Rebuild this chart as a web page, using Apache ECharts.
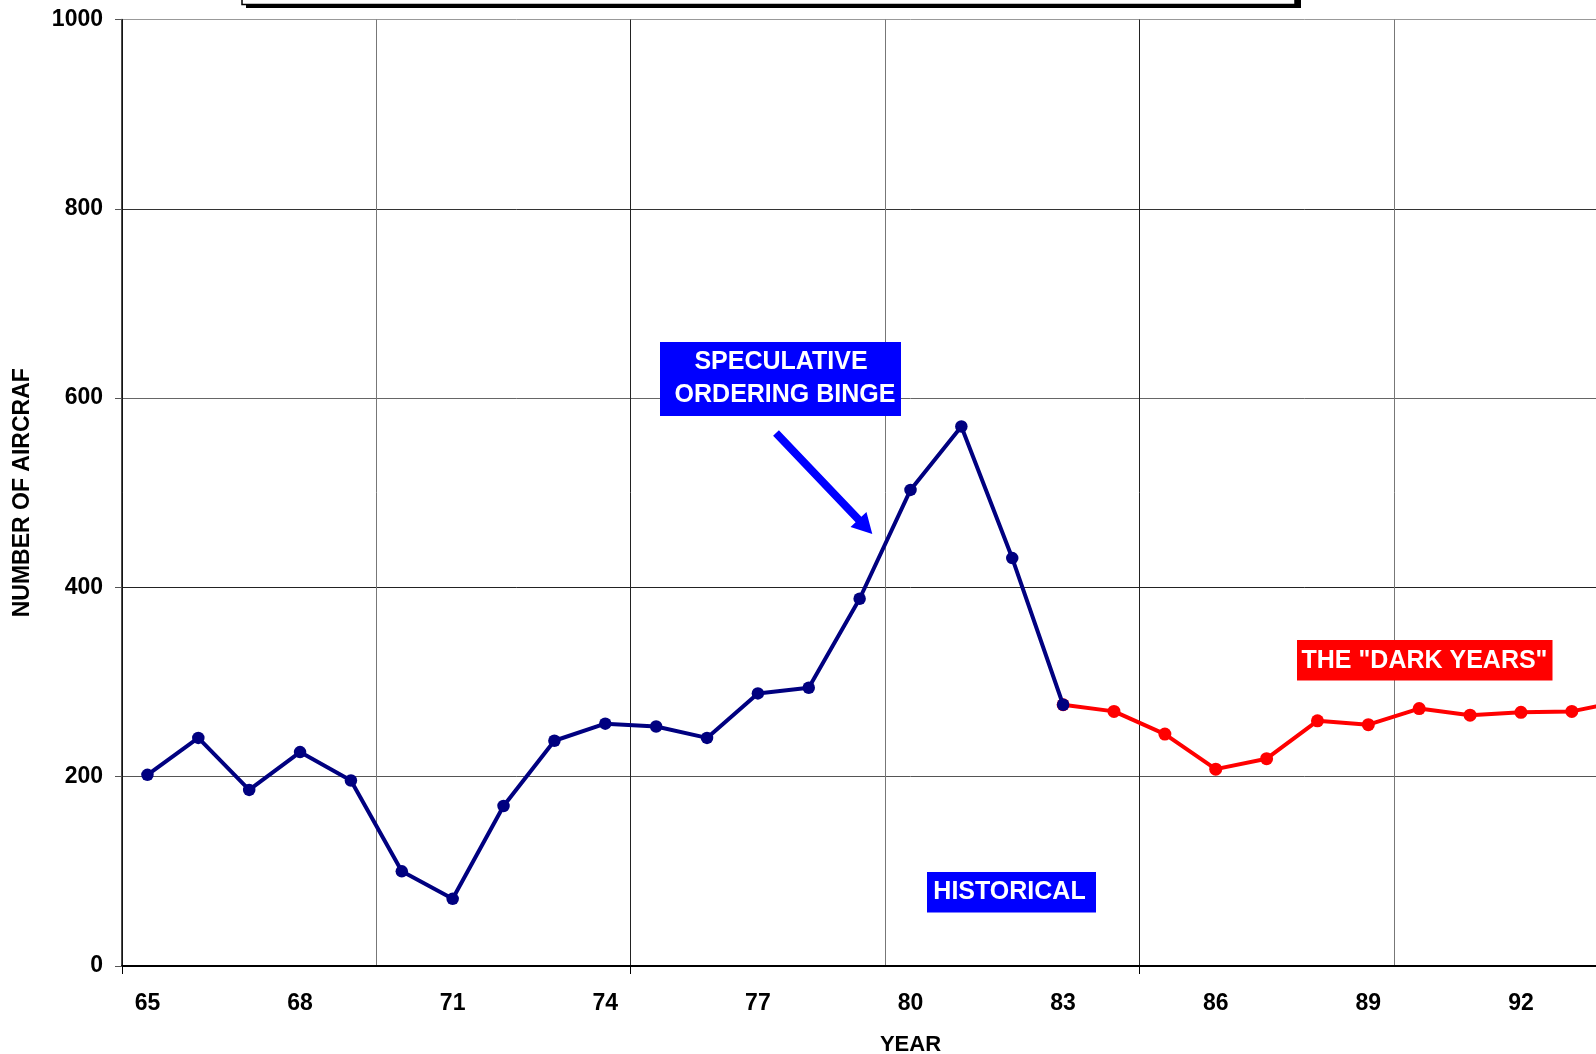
<!DOCTYPE html>
<html>
<head>
<meta charset="utf-8">
<script src="https://cdn.jsdelivr.net/npm/echarts@6/dist/echarts.min.js"></script>
<style>
  html, body { margin: 0; padding: 0; overflow: hidden; background: #ffffff; }
  #chart { width: 1800px; height: 1054px; }
</style>
</head>
<body>
<div id="chart"></div>
<script>
// Years on the category axis (19xx)
const years = ['65','66','67','68','69','70','71','72','73','74','75','76','77','78','79',
               '80','81','82','83','84','85','86','87','88','89','90','91','92','93','94','95'];

// Deliveries, historical period 1965-1983
const historical = [202, 241, 186, 226, 196, 100, 71, 169, 238, 256, 253, 241, 288, 294, 388,
                    503, 570, 431, 276];

// Deliveries, the "dark years" 1983-1994
const darkYears = [276, 269, 245, 208, 219, 259, 255, 272, 265, 268, 269, 280];
const darkStartYear = '83';

// Value axis
const yMin = 0, yMax = 1000, yStep = 200;

const FONT = '"Liberation Sans", Arial, Helvetica, sans-serif';

function pad(values, startIndex) {
  const out = new Array(years.length).fill(null);
  values.forEach((v, i) => { out[startIndex + i] = v; });
  return out;
}
const histSeries = pad(historical, 0);
const darkSeries = pad(darkYears, years.indexOf(darkStartYear));

// Arrow polygon from a tail point to a tip point
function arrowPoints(x1, y1, x2, y2, shaftHalf, headLen, headHalf) {
  const dx = x2 - x1, dy = y2 - y1, len = Math.hypot(dx, dy);
  const ux = dx / len, uy = dy / len, nx = -uy, ny = ux;
  const bx = x2 - ux * headLen, by = y2 - uy * headLen;
  return [
    [x1 + nx * shaftHalf, y1 + ny * shaftHalf],
    [bx + nx * shaftHalf, by + ny * shaftHalf],
    [bx + nx * headHalf, by + ny * headHalf],
    [x2, y2],
    [bx - nx * headHalf, by - ny * headHalf],
    [bx - nx * shaftHalf, by - ny * shaftHalf],
    [x1 - nx * shaftHalf, y1 - ny * shaftHalf]
  ];
}

function labelBox(x, y, w, h, color) {
  return { type: 'rect', shape: { x: x, y: y, width: w, height: h }, style: { fill: color }, z: 100 };
}
function labelText(text, x, y) {
  return {
    type: 'text', z: 101,
    style: {
      text: text, x: x, y: y, fill: '#ffffff',
      font: 'bold 25px ' + FONT,
      align: 'center', verticalAlign: 'middle',
      textAlign: 'center', textVerticalAlign: 'middle'
    }
  };
}

const chart = echarts.init(document.getElementById('chart'), null, { renderer: 'canvas' });

chart.setOption({
  animation: false,
  backgroundColor: '#ffffff',
  grid: { left: 122, top: 19.5, width: 1577, height: 946.5, outerBoundsMode: 'none', containLabel: false },
  xAxis: {
    type: 'category',
    data: years,
    boundaryGap: true,
    name: 'YEAR',
    nameLocation: 'middle',
    nameGap: 68,
    nameTextStyle: { color: '#000', fontFamily: FONT, fontWeight: 'bold', fontSize: 22 },
    axisLine: { show: true, lineStyle: { color: '#000', width: 2 } },
    axisTick: { show: true, length: 8, interval: (i) => i % 10 === 0, lineStyle: { color: '#000', width: 1 } },
    axisLabel: { interval: 2, margin: 26, color: '#000', fontFamily: FONT, fontWeight: 'bold', fontSize: 23 },
    splitLine: { show: true, interval: (i) => i % 5 === 0, lineStyle: { color: ['#222', '#777'], width: 1 } }
  },
  yAxis: {
    type: 'value',
    min: yMin, max: yMax, interval: yStep,
    name: 'NUMBER OF AIRCRAF',
    nameLocation: 'middle',
    nameGap: 88,
    nameRotate: 90,
    nameTextStyle: { color: '#000', fontFamily: FONT, fontWeight: 'bold', fontSize: 23 },
    axisLine: { show: true, lineStyle: { color: '#111', width: 1.5 } },
    axisTick: { show: true, length: 7, lineStyle: { color: '#555', width: 1 } },
    axisLabel: { margin: 19, color: '#000', fontFamily: FONT, fontWeight: 'bold', fontSize: 23,
                 formatter: (v) => String(v) },
    splitLine: { show: true, lineStyle: { color: ['#333', '#555', '#222', '#666', '#333', '#999'], width: 1 } }
  },
  series: [
    {
      name: 'Dark years',
      type: 'line',
      data: darkSeries,
      symbol: 'circle', symbolSize: 13,
      lineStyle: { color: '#ff0000', width: 4 },
      itemStyle: { color: '#ff0000' },
      z: 3
    },
    {
      name: 'Historical',
      type: 'line',
      data: histSeries,
      symbol: 'circle', symbolSize: 12.5,
      lineStyle: { color: '#000080', width: 4 },
      itemStyle: { color: '#000080' },
      z: 4
    }
  ],
  graphic: [
    // chart title frame (runs off the top of the page)
    { type: 'rect', shape: { x: 246, y: -60, width: 1055, height: 68 }, style: { fill: '#000' }, z: 100 },
    { type: 'rect', shape: { x: 242, y: -60, width: 1053, height: 64.5 }, style: { fill: '#fff', stroke: '#000', lineWidth: 1.5 }, z: 101 },

    labelBox(660, 342, 241, 74, '#0000ff'),
    labelText('SPECULATIVE', 781, 362),
    labelText('ORDERING BINGE', 785, 395.5),
    { type: 'polygon', z: 100,
      shape: { points: arrowPoints(776, 433, 872.3, 534, 4, 20, 11) },
      style: { fill: '#0000ff' } },

    labelBox(927, 872, 169, 40.5, '#0000ff'),
    labelText('HISTORICAL', 1009.5, 892.5),

    labelBox(1297, 640, 255.5, 40.5, '#ff0000'),
    labelText('THE "DARK YEARS"', 1424.5, 661)
  ]
});
</script>
</body>
</html>
